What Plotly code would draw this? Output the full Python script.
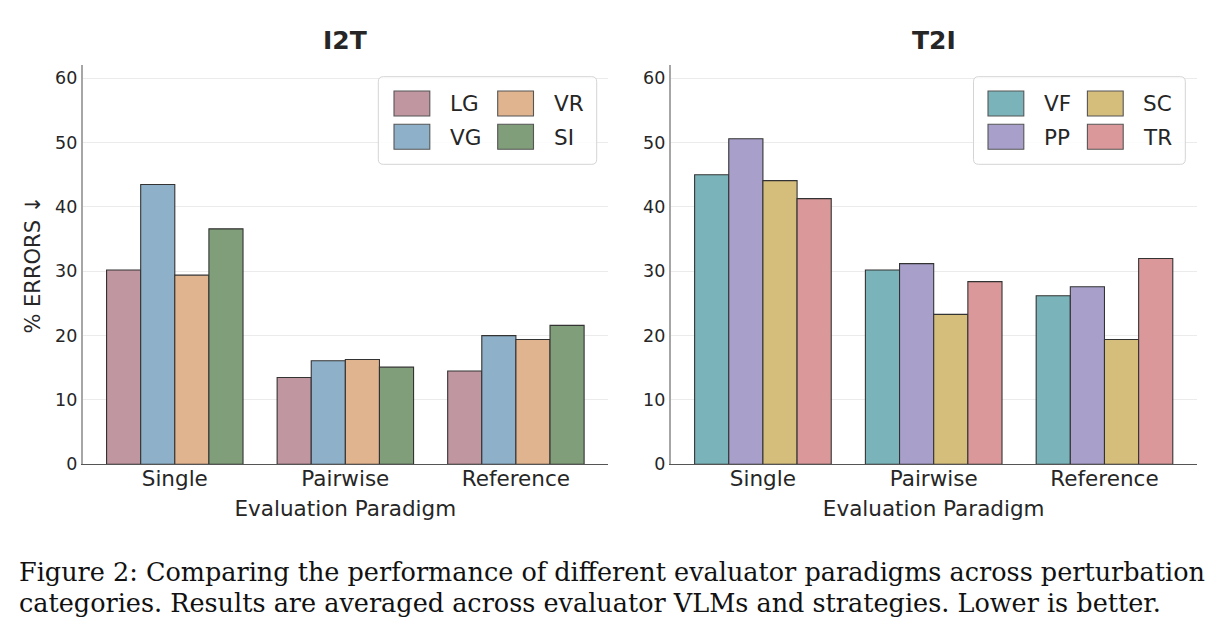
import plotly.graph_objects as go

W, H = 1219, 638

# ---------------- data ----------------
categories = ["Single", "Pairwise", "Reference"]

i2t_series = ["LG", "VG", "VR", "SI"]
i2t_LG = [30.2, 13.5, 14.5]
i2t_VG = [43.5, 16.1, 20.0]
i2t_VR = [29.4, 16.3, 19.4]
i2t_SI = [36.6, 15.1, 21.6]
i2t_colors = ["#c096a1", "#8fb0c9", "#e0b48f", "#7f9e79"]

t2i_series = ["VF", "PP", "SC", "TR"]
t2i_VF = [45.0, 30.2, 26.2]
t2i_PP = [50.6, 31.2, 27.6]
t2i_SC = [44.1, 23.3, 19.4]
t2i_TR = [41.3, 28.4, 32.0]
t2i_colors = ["#7ab4ba", "#a89fcb", "#d5bd7c", "#da989a"]

y_ticks = [0, 10, 20, 30, 40, 50, 60]
panel_titles = ["I2T", "T2I"]
y_title = "% ERRORS ↓"
x_title = "Evaluation Paradigm"
caption_lines = [
    "Figure 2: Comparing the performance of different evaluator paradigms across perturbation",
    "categories. Results are averaged across evaluator VLMs and strategies. Lower is better.",
]

# ---------------- layout helpers ----------------
def px(x):
    return x / W

def py(y):
    return 1 - y / H

FONT = "DejaVu Sans"
TXT = "#262626"

panels = [
    dict(x0=82.7, x1=608.0, series=i2t_series, values=[i2t_LG, i2t_VG, i2t_VR, i2t_SI],
         colors=i2t_colors,
         leg=dict(box=(378.3, 596.7), sw=(394.0, 497.7), tx=(448.0, 551.7))),
    dict(x0=670.7, x1=1196.7, series=t2i_series, values=[t2i_VF, t2i_PP, t2i_SC, t2i_TR],
         colors=t2i_colors,
         leg=dict(box=(973.5, 1185.3), sw=(988.0, 1087.4), tx=(1042.0, 1141.4))),
]
plot_top, plot_bot = 65.0, 464.3

fig = go.Figure()
shapes = []
annotations = []

for p_i, p in enumerate(panels):
    xa = "x" if p_i == 0 else "x2"
    ya = "y" if p_i == 0 else "y2"
    for name, vals, col in zip(p["series"], p["values"], p["colors"]):
        fig.add_trace(go.Bar(
            x=categories, y=vals, name=name, xaxis=xa, yaxis=ya,
            marker=dict(color=col, line=dict(color="#333333", width=1.1)),
            showlegend=False,
        ))
    xkey = "xaxis" if p_i == 0 else "xaxis2"
    ykey = "yaxis" if p_i == 0 else "yaxis2"
    fig.update_layout(**{
        xkey: dict(
            domain=[px(p["x0"]), px(p["x1"])], anchor=ya, automargin=False,
            type="category", range=[-0.54, 2.54],
            showgrid=False, zeroline=False,
            showline=True, linecolor="#555555", linewidth=1.3,
            ticks="", ticklabelstandoff=-5,
            tickfont=dict(family=FONT, size=21.5, color=TXT),
            title=dict(text=x_title, font=dict(family=FONT, size=21.5, color=TXT), standoff=10),
        ),
        ykey: dict(
            domain=[py(plot_bot), py(plot_top)], anchor=xa, automargin=False,
            range=[0, 62.07], tickvals=y_ticks,
            showgrid=True, gridcolor="#ebebeb", gridwidth=1,
            zeroline=False, showline=True, linecolor="#a6a6a6", linewidth=1.6,
            ticks="", ticklabelstandoff=0,
            tickfont=dict(family=FONT, size=17.5, color=TXT),
            title=dict(text=y_title if p_i == 0 else "",
                       font=dict(family=FONT, size=21, color=TXT), standoff=9),
        ),
    })
    # panel title
    annotations.append(dict(
        text="<b>%s</b>" % panel_titles[p_i], xref="paper", yref="paper",
        x=px((p["x0"] + p["x1"]) / 2), y=py(40.5), xanchor="center", yanchor="middle",
        showarrow=False, font=dict(family=FONT, size=25, color=TXT),
    ))
    # custom legend (two columns, column-major order)
    lg = p["leg"]
    bx0, bx1 = lg["box"]
    by0, by1 = 76.7, 164.3
    r = 5
    path = (f"M{px(bx0+r)},{py(by0)} L{px(bx1-r)},{py(by0)} "
            f"Q{px(bx1)},{py(by0)} {px(bx1)},{py(by0+r)} "
            f"L{px(bx1)},{py(by1-r)} Q{px(bx1)},{py(by1)} {px(bx1-r)},{py(by1)} "
            f"L{px(bx0+r)},{py(by1)} Q{px(bx0)},{py(by1)} {px(bx0)},{py(by1-r)} "
            f"L{px(bx0)},{py(by0+r)} Q{px(bx0)},{py(by0)} {px(bx0+r)},{py(by0)} Z")
    shapes.append(dict(type="path", path=path, xref="paper", yref="paper",
                       fillcolor="rgba(255,255,255,0.85)",
                       line=dict(color="#d4d4d4", width=1), layer="above"))
    rows = [(91.0, 116.0), (124.3, 149.3)]
    for k, (name, col) in enumerate(zip(p["series"], p["colors"])):
        c, rr = divmod(k, 2)
        sx0 = lg["sw"][c]
        ry0, ry1 = rows[rr]
        shapes.append(dict(type="rect", xref="paper", yref="paper",
                           x0=px(sx0), x1=px(sx0 + 35.8), y0=py(ry1), y1=py(ry0),
                           fillcolor=col, line=dict(color="#555555", width=1.1),
                           layer="above"))
        annotations.append(dict(
            text=name, xref="paper", yref="paper", x=px(lg["tx"][c]),
            y=py((ry0 + ry1) / 2 + 0.5), xanchor="left", yanchor="middle",
            showarrow=False, font=dict(family=FONT, size=21.5, color=TXT),
        ))

# caption
for i, line in enumerate(caption_lines):
    annotations.append(dict(
        text=line, xref="paper", yref="paper", x=px(17), y=py(572 + i * 31),
        xanchor="left", yanchor="middle", showarrow=False,
        font=dict(family="DejaVu Serif", size=25.5, color="#111111"),
    ))

fig.update_layout(
    template=None,
    width=W, height=H, margin=dict(l=0, r=0, t=0, b=0, pad=0), autosize=False,
    paper_bgcolor="white", plot_bgcolor="white",
    barmode="group", bargap=0.2, bargroupgap=0,
    showlegend=False, shapes=shapes, annotations=annotations,
    font=dict(family=FONT, color=TXT),
)

fig.write_html("out.html")
